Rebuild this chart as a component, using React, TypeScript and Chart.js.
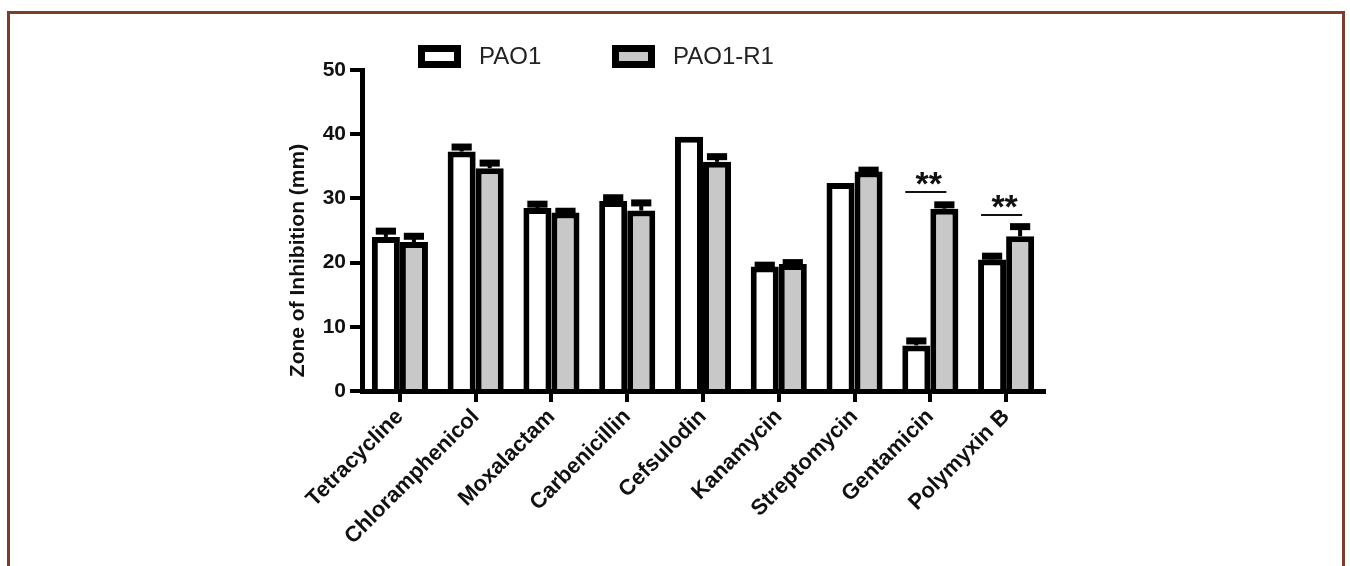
import React, { useEffect, useRef } from 'react';
import { Chart, registerables } from 'chart.js';

Chart.register(...registerables);

const categories = ['Tetracycline', 'Chloramphenicol', 'Moxalactam', 'Carbenicillin', 'Cefsulodin', 'Kanamycin', 'Streptomycin', 'Gentamicin', 'Polymyxin B'];
const seriesNames = ['PAO1', 'PAO1-R1'];
const pao1Values = [24.0, 37.3, 28.5, 29.6, 39.6, 19.4, 32.4, 7.1, 20.5];
const pao1Errors = [0.9, 0.7, 0.6, 0.5, 0, 0.2, 0, 0.7, 0.5];
const r1Values = [23.2, 34.7, 27.8, 28.1, 35.7, 19.8, 34.2, 28.4, 24.1];
const r1Errors = [0.9, 0.8, 0.2, 1.2, 0.8, 0.2, 0.2, 0.6, 1.5];
const yMin = 0;
const yMax = 50;
const yStep = 10;
const yTitle = 'Zone of Inhibition (mm)';
const sigCategories = ['Gentamicin', 'Polymyxin B'];
const sigLevels = [31.0, 27.4];
const sigLabels = ['**', '**'];

const FONT = "'Liberation Sans', Arial, Helvetica, sans-serif";

const errorBarPlugin = {
  id: 'errorBars',
  afterDatasetsDraw(chart: any) {
    const ctx = chart.ctx;
    const y = chart.scales.y;
    const errs = [pao1Errors, r1Errors];
    ctx.save();
    ctx.fillStyle = '#000';
    chart.data.datasets.forEach((ds: any, d: number) => {
      const meta = chart.getDatasetMeta(d);
      meta.data.forEach((el: any, i: number) => {
        const e = errs[d][i];
        if (!e) return;
        const v = ds.data[i];
        const py = y.getPixelForValue(v + e);
        const top = el.y;
        ctx.fillRect(el.x - 2, py, 4, top - py);
        const cw = el.width * 0.72;
        ctx.fillRect(el.x - cw / 2, py - 3.5, cw, 7);
      });
    });
    ctx.restore();
  },
};

const significancePlugin = {
  id: 'significance',
  afterDatasetsDraw(chart: any) {
    const ctx = chart.ctx;
    const y = chart.scales.y;
    const m0 = chart.getDatasetMeta(0);
    const m1 = chart.getDatasetMeta(1);
    ctx.save();
    sigCategories.forEach((cat, k) => {
      const i = categories.indexOf(cat);
      const a = m0.data[i];
      const b = m1.data[i];
      const py = y.getPixelForValue(sigLevels[k]);
      const x1 = a.x - 11;
      const x2 = b.x + 2;
      ctx.strokeStyle = '#111';
      ctx.lineWidth = 2;
      ctx.beginPath();
      ctx.moveTo(x1, py);
      ctx.lineTo(x2, py);
      ctx.stroke();
      ctx.fillStyle = '#111';
      ctx.font = `bold 34px ${FONT}`;
      ctx.textAlign = 'center';
      ctx.textBaseline = 'alphabetic';
      ctx.fillText(sigLabels[k], (x1 + x2) / 2 + 3, py + 3);
    });
    ctx.restore();
  },
};

const legendPlugin = {
  id: 'customLegend',
  afterDraw(chart: any) {
    const ctx = chart.ctx;
    const area = chart.chartArea;
    const offsets = [56, 250];
    ctx.save();
    chart.data.datasets.forEach((ds: any, d: number) => {
      const bx = area.left + offsets[d];
      const by = 45;
      const bw = 43;
      const bh = 23;
      ctx.fillStyle = '#000';
      ctx.fillRect(bx, by, bw, bh);
      ctx.fillStyle = ds.backgroundColor;
      ctx.fillRect(bx + 7, by + 7, bw - 14, bh - 14);
      ctx.fillStyle = '#222';
      ctx.font = `24px ${FONT}`;
      ctx.textAlign = 'left';
      ctx.textBaseline = 'middle';
      ctx.fillText(ds.label, bx + bw + 18, by + bh / 2 + 1);
    });
    ctx.restore();
  },
};

const yTitlePlugin = {
  id: 'yTitle',
  afterDraw(chart: any) {
    const ctx = chart.ctx;
    const area = chart.chartArea;
    ctx.save();
    ctx.translate(area.left - 64, (area.top + area.bottom) / 2 + 30);
    ctx.rotate(-Math.PI / 2);
    ctx.fillStyle = '#111';
    ctx.font = `bold 21px ${FONT}`;
    ctx.textAlign = 'center';
    ctx.textBaseline = 'middle';
    ctx.fillText(yTitle, 0, 0);
    ctx.restore();
  },
};

export default function App() {
  const ref = useRef<HTMLCanvasElement>(null);
  useEffect(() => {
    if (!ref.current) return;
    const chart = new Chart(ref.current, {
      type: 'bar',
      data: {
        labels: categories,
        datasets: [
          {
            label: seriesNames[0],
            data: pao1Values,
            backgroundColor: '#ffffff',
            borderColor: '#000000',
            borderWidth: 6,
            categoryPercentage: 0.74,
            barPercentage: 1.0,
          },
          {
            label: seriesNames[1],
            data: r1Values,
            backgroundColor: '#c8c8c8',
            borderColor: '#000000',
            borderWidth: 6,
            categoryPercentage: 0.74,
            barPercentage: 1.0,
          },
        ],
      },
      options: {
        responsive: false,
        animation: false,
        devicePixelRatio: 1,
        layout: { padding: { left: 0, right: 306, top: 70, bottom: 0 } },
        plugins: {
          legend: { display: false },
          tooltip: { enabled: false },
          title: { display: false },
        },
        scales: {
          x: {
            offset: true,
            grid: {
              offset: false,
              drawOnChartArea: false,
              drawTicks: true,
              tickLength: 11,
              lineWidth: 4,
              color: '#000',
            },
            border: { display: true, width: 5, color: '#000' },
            ticks: {
              autoSkip: false,
              maxRotation: 45,
              minRotation: 45,
              padding: 2,
              color: '#111',
              font: { family: FONT, size: 22, weight: 'bold' },
            },
            afterFit(scale: any) {
              scale.height = 175;
            },
          },
          y: {
            min: yMin,
            max: yMax,
            ticks: {
              stepSize: yStep,
              padding: 4,
              color: '#111',
              font: { family: FONT, size: 21, weight: 'bold' },
            },
            grid: {
              drawOnChartArea: false,
              drawTicks: true,
              tickLength: 12,
              lineWidth: 4,
              color: '#000',
            },
            border: { display: true, width: 5, color: '#000' },
            afterFit(scale: any) {
              scale.width = 362;
            },
          },
        },
      },
      plugins: [errorBarPlugin, significancePlugin, legendPlugin, yTitlePlugin],
    } as any);
    return () => chart.destroy();
  }, []);

  return (
    <div>
      <div
        style={{
          position: 'absolute',
          left: 7,
          top: 11,
          width: 1338,
          height: 555,
          boxSizing: 'border-box',
          border: '3px solid #7c3e2b',
          borderBottom: 'none',
        }}
      />
      <canvas
        ref={ref}
        width={1350}
        height={566}
        style={{ position: 'absolute', left: 0, top: 0, width: 1350, height: 566 }}
      />
    </div>
  );
}
